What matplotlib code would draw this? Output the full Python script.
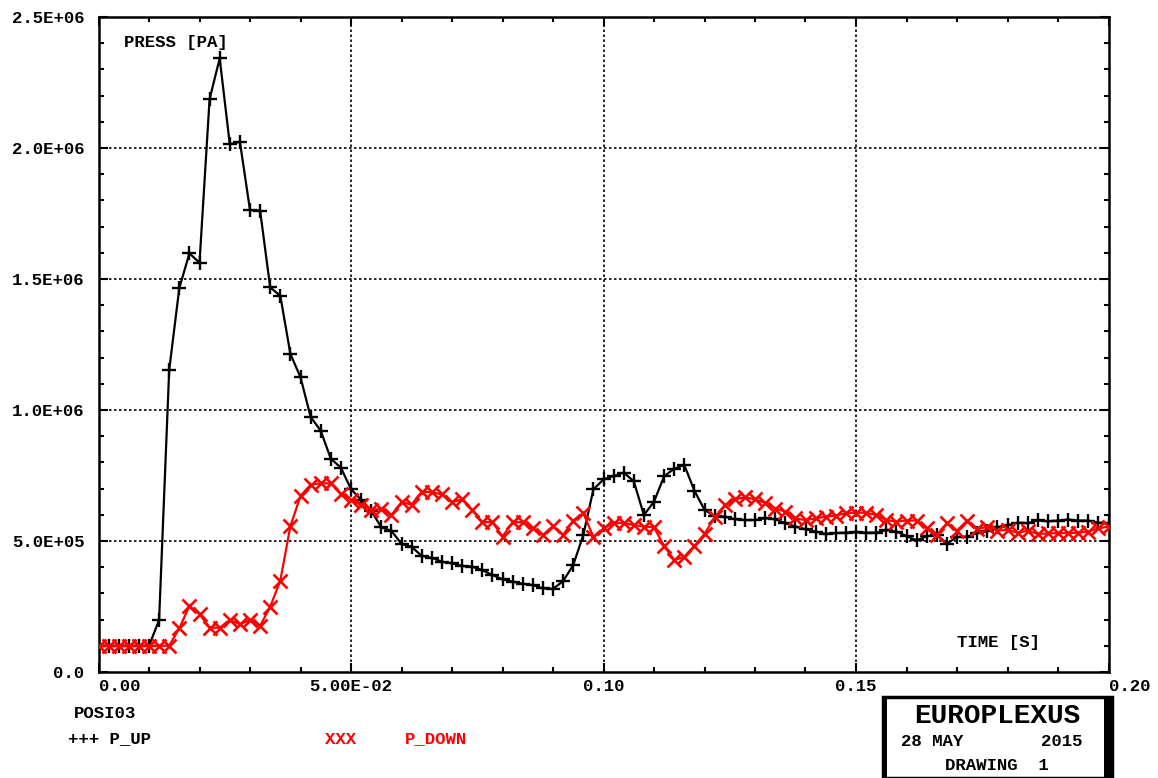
import numpy as np
import matplotlib
matplotlib.use("Agg")
import matplotlib.pyplot as plt
from matplotlib.ticker import MultipleLocator
from matplotlib.patches import Rectangle

# time grid of the saved steps (s)
time_s = np.linspace(0.0, 0.2, 101)

# P_UP pressure (Pa)
p_up = [
    1.0e5, 1.0e5, 1.0e5, 1.0e5, 1.0e5, 1.0e5, 1.98e5, 1.153e6, 1.465e6, 1.598e6,
    1.562e6, 2.187e6, 2.342e6, 2.014e6, 2.024e6, 1.763e6, 1.761e6, 1.468e6, 1.436e6, 1.214e6,
    1.125e6, 0.974e6, 0.921e6, 0.814e6, 0.780e6, 0.698e6, 0.657e6, 0.616e6, 0.552e6, 0.539e6,
    0.489e6, 0.478e6, 0.443e6, 0.436e6, 0.421e6, 0.415e6, 0.405e6, 0.402e6, 0.389e6, 0.370e6,
    0.354e6, 0.345e6, 0.337e6, 0.332e6, 0.319e6, 0.317e6, 0.347e6, 0.408e6, 0.523e6, 0.697e6,
    0.735e6, 0.748e6, 0.761e6, 0.728e6, 0.599e6, 0.650e6, 0.747e6, 0.776e6, 0.790e6, 0.692e6,
    0.619e6, 0.595e6, 0.593e6, 0.583e6, 0.580e6, 0.580e6, 0.587e6, 0.583e6, 0.568e6, 0.555e6,
    0.545e6, 0.536e6, 0.527e6, 0.530e6, 0.532e6, 0.533e6, 0.532e6, 0.532e6, 0.542e6, 0.536e6,
    0.519e6, 0.502e6, 0.518e6, 0.524e6, 0.490e6, 0.515e6, 0.517e6, 0.530e6, 0.537e6, 0.553e6,
    0.560e6, 0.570e6, 0.568e6, 0.579e6, 0.575e6, 0.578e6, 0.582e6, 0.578e6, 0.578e6, 0.570e6,
    0.568e6,
]

# P_DOWN pressure (Pa)
p_down = [
    1.0e5, 1.0e5, 1.0e5, 1.0e5, 1.0e5, 1.0e5, 1.0e5, 1.0e5, 1.67e5, 2.52e5,
    2.21e5, 1.69e5, 1.69e5, 1.98e5, 1.83e5, 1.98e5, 1.76e5, 2.49e5, 3.49e5, 5.57e5,
    6.72e5, 7.15e5, 7.2e5, 7.2e5, 6.8e5, 6.57e5, 6.37e5, 6.18e5, 6.23e5, 5.99e5,
    6.48e5, 6.39e5, 6.88e5, 6.86e5, 6.78e5, 6.48e5, 6.59e5, 6.18e5, 5.72e5, 5.72e5,
    5.17e5, 5.71e5, 5.72e5, 5.48e5, 5.23e5, 5.57e5, 5.23e5, 5.78e5, 6.06e5, 5.16e5,
    5.48e5, 5.68e5, 5.68e5, 5.61e5, 5.55e5, 5.52e5, 4.81e5, 4.27e5, 4.40e5, 4.81e5,
    5.27e5, 5.90e5, 6.36e5, 6.59e5, 6.67e5, 6.59e5, 6.46e5, 6.24e5, 6.12e5, 5.86e5,
    5.80e5, 5.86e5, 5.93e5, 5.97e5, 6.06e5, 6.08e5, 6.08e5, 5.99e5, 5.80e5, 5.74e5,
    5.78e5, 5.78e5, 5.50e5, 5.23e5, 5.67e5, 5.40e5, 5.78e5, 5.45e5, 5.55e5, 5.40e5,
    5.42e5, 5.32e5, 5.39e5, 5.27e5, 5.29e5, 5.30e5, 5.30e5, 5.32e5, 5.36e5, 5.48e5,
    5.55e5,
]

x_ticks = [0.0, 0.05, 0.10, 0.15, 0.20]
x_labels = ["0.00", "5.00E-02", "0.10", "0.15", "0.20"]
y_ticks = [0.0, 0.5e6, 1.0e6, 1.5e6, 2.0e6, 2.5e6]
y_labels = ["0.0", "5.0E+05", "1.0E+06", "1.5E+06", "2.0E+06", "2.5E+06"]

FONT = ["Liberation Mono", "DejaVu Sans Mono"]
plt.rcParams["font.family"] = FONT
plt.rcParams["font.weight"] = "bold"

fig = plt.figure(figsize=(11.58, 7.78), dpi=100)
ax = fig.add_axes([98.5 / 1158, 1 - 672 / 778, 1010 / 1158, 655 / 778])

ax.plot(time_s, p_up, color="black", linewidth=1.6, marker="+",
        markersize=10, markeredgewidth=1.7, zorder=3)
ax.plot(time_s, p_down, color="#ff0000", linewidth=1.6, marker="x",
        markersize=9.5, markeredgewidth=1.9, zorder=4)

ax.set_xlim(0.0, 0.2)
ax.set_ylim(0.0, 2.5e6)

ax.set_xticks(x_ticks)
ax.set_xticklabels(x_labels, fontsize=12.5, fontweight="bold")
ax.set_yticks(y_ticks)
ax.set_yticklabels(y_labels, fontsize=12.5, fontweight="bold")
xl = ax.get_xticklabels()
xl[0].set_horizontalalignment("left")
xl[-1].set_horizontalalignment("left")

ax.xaxis.set_minor_locator(MultipleLocator(0.01))
ax.yaxis.set_minor_locator(MultipleLocator(1.0e5))
ax.tick_params(which="both", direction="in", top=True, right=True, width=1.5)
ax.tick_params(which="major", length=6.5)
ax.tick_params(which="minor", length=3.8)
ax.tick_params(axis="x", pad=5)
ax.tick_params(axis="y", pad=10)
for sp in ax.spines.values():
    sp.set_linewidth(1.8)

# dotted grid on interior major ticks only
for xv in x_ticks[1:-1]:
    ax.axvline(xv, color="black", linewidth=1.2, linestyle=(0, (1.5, 1.5)), zorder=1)
for yv in y_ticks[1:-1]:
    ax.axhline(yv, color="black", linewidth=1.2, linestyle=(0, (1.5, 1.5)), zorder=1)

# axis captions inside the frame
fig.text(124 / 1158, 1 - 42 / 778, "PRESS [PA]", fontsize=12.5, fontweight="bold",
         ha="left", va="center")
fig.text(1 - 118 / 1158, 1 - 642 / 778, "TIME [S]", fontsize=12.5, fontweight="bold",
         ha="right", va="center")

# legend block under the axes
fig.text(74 / 1158, 1 - 713 / 778, "POSI03", fontsize=12.5, fontweight="bold",
         ha="left", va="center")
fig.text(68 / 1158, 1 - 739 / 778, "+++ P_UP", fontsize=12.5, fontweight="bold",
         ha="left", va="center")
fig.text(325 / 1158, 1 - 739 / 778, "XXX", fontsize=12.5, fontweight="bold",
         color="#ff0000", ha="left", va="center")
fig.text(405 / 1158, 1 - 739 / 778, "P_DOWN", fontsize=12.5, fontweight="bold",
         color="#ff0000", ha="left", va="center")

# EUROPLEXUS title block
fig.patches.append(Rectangle((883 / 1158, 0), (1112 - 883) / 1158, 1 - 697 / 778,
                             transform=fig.transFigure, fill=False,
                             edgecolor="black", linewidth=2.5))
fig.patches.append(Rectangle((1104 / 1158, 0), 8 / 1158, 1 - 697 / 778,
                             transform=fig.transFigure, facecolor="black",
                             edgecolor="none"))
fig.patches.append(Rectangle((883 / 1158, 0), 4 / 1158, 1 - 697 / 778,
                             transform=fig.transFigure, facecolor="black",
                             edgecolor="none"))
fig.text(997 / 1158, 1 - 716 / 778, "EUROPLEXUS", fontsize=20, fontweight="bold",
         ha="center", va="center")
fig.text(901 / 1158, 1 - 742 / 778, "28 MAY", fontsize=12.5, fontweight="bold",
         ha="left", va="center")
fig.text(1082 / 1158, 1 - 742 / 778, "2015", fontsize=12.5, fontweight="bold",
         ha="right", va="center")
fig.text(945 / 1158, 1 - 766 / 778, "DRAWING  1", fontsize=12.5, fontweight="bold",
         ha="left", va="center")

fig.savefig("out.png", dpi=100)
